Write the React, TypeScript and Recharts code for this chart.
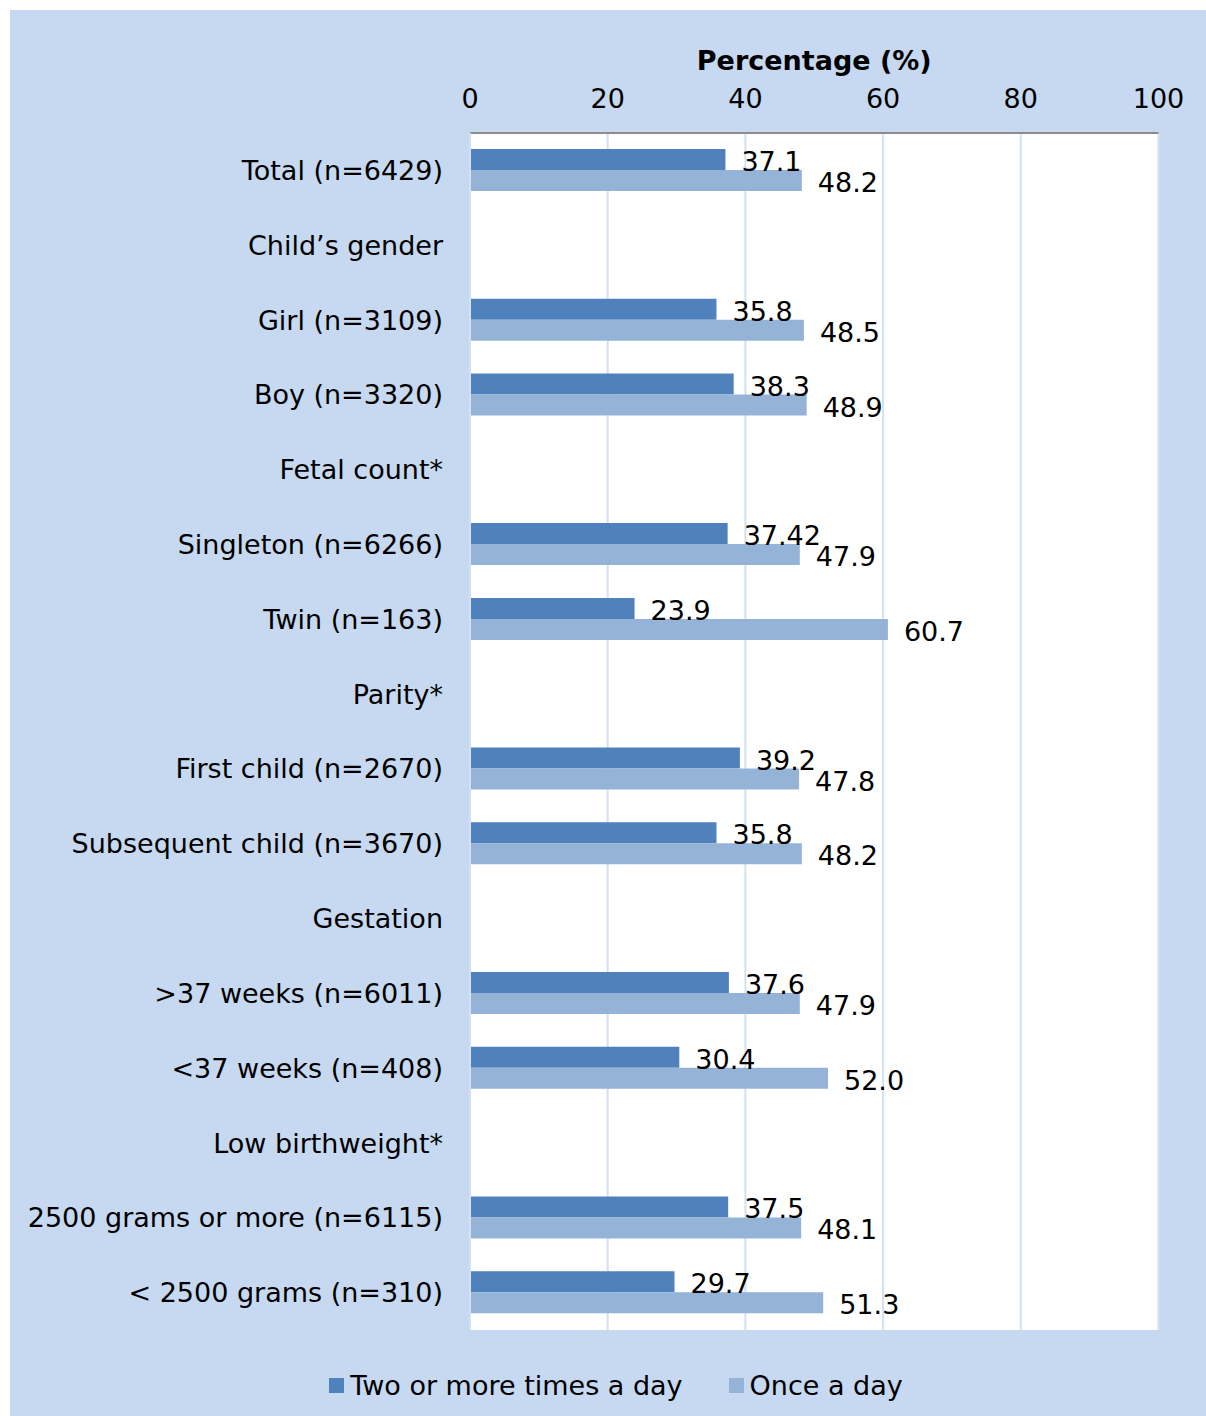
import { BarChart, Bar, XAxis, YAxis, CartesianGrid, Legend, LabelList } from "recharts";

const categories = [
    "Total (n=6429)",
    "Child\u2019s gender",
    "Girl (n=3109)",
    "Boy (n=3320)",
    "Fetal count*",
    "Singleton (n=6266)",
    "Twin (n=163)",
    "Parity*",
    "First child (n=2670)",
    "Subsequent child (n=3670)",
    "Gestation",
    ">37 weeks (n=6011)",
    "<37 weeks (n=408)",
    "Low birthweight*",
    "2500 grams or more (n=6115)",
    "< 2500 grams (n=310)",
];

const twoOrMore = [37.1, null, 35.8, 38.3, null, 37.42, 23.9, null, 39.2, 35.8, null, 37.6, 30.4, null, 37.5, 29.7];
const onceADay = [48.2, null, 48.5, 48.9, null, 47.9, 60.7, null, 47.8, 48.2, null, 47.9, 52.0, null, 48.1, 51.3];

const xTicks = [0, 20, 40, 60, 80, 100];

const DARK = "#4f81bd";
const LIGHT = "#95b3d7";
const PANEL = "#c6d9f1";
const GRID = "#d3e0f1";
const FONT = 27;

const data = categories.map((name, i) => ({
    name,
    two: twoOrMore[i],
    once: onceADay[i],
}));

const fmt = (v: any) => {
    if (v == null) return "";
    return Number.isInteger(v) ? Number(v).toFixed(1) : String(v);
};

const LegendBox = () => (
    <div
        style={{
            display: "flex",
            justifyContent: "center",
            alignItems: "center",
            height: 40,
            paddingLeft: 16,
            fontSize: FONT,
            color: "#000",
        }}
    >
        <span style={{ display: "inline-block", width: 15, height: 15, background: DARK, marginRight: 6 }} />
        <span style={{ marginRight: 46 }}>Two or more times a day</span>
        <span style={{ display: "inline-block", width: 15, height: 15, background: LIGHT, marginRight: 6 }} />
        <span>Once a day</span>
    </div>
);

export default function App() {
    return (
        <div
            style={{
                position: "absolute",
                left: 0,
                top: 0,
                width: 1206,
                height: 1416,
                background: "#fff",
                fontFamily: "'DejaVu Sans', Verdana, sans-serif",
            }}
        >
            <div style={{ position: "absolute", left: 10, top: 10, width: 1196, height: 1406, background: PANEL }}>
                <BarChart
                    width={1196}
                    height={1406}
                    layout="vertical"
                    data={data}
                    margin={{ top: 20, right: 47.5, bottom: 46, left: 20 }}
                    barSize={21}
                    barGap={0}
                >
                    <CartesianGrid horizontal={false} stroke={GRID} strokeWidth={2} fill="#fff" />
                    <XAxis
                        type="number"
                        orientation="top"
                        domain={[0, 100]}
                        ticks={xTicks}
                        height={103}
                        tickLine={false}
                        tickSize={0}
                        tickMargin={25}
                        axisLine={{ stroke: "#8c8c8c", strokeWidth: 2 }}
                        tick={{ fill: "#000", fontSize: FONT }}
                        label={{
                            value: "Percentage (%)",
                            position: "insideTop",
                            offset: 21,
                            fill: "#000",
                            fontSize: FONT,
                            fontWeight: "bold",
                        }}
                    />
                    <YAxis
                        type="category"
                        dataKey="name"
                        width={440}
                        interval={0}
                        tickLine={false}
                        tickSize={0}
                        tickMargin={27}
                        axisLine={{ stroke: GRID, strokeWidth: 2 }}
                        tick={{ fill: "#000", fontSize: FONT }}
                    />
                    <Legend
                        verticalAlign="bottom"
                        height={40}
                        content={() => <LegendBox />}
                        wrapperStyle={{ left: 0, width: 1196, bottom: 11 }}
                    />
                    <Bar dataKey="two" name="Two or more times a day" fill={DARK} isAnimationActive={false}>
                        <LabelList dataKey="two" position="right" offset={16} dy={2} formatter={fmt} fill="#000" fontSize={FONT} />
                    </Bar>
                    <Bar dataKey="once" name="Once a day" fill={LIGHT} isAnimationActive={false}>
                        <LabelList dataKey="once" position="right" offset={16} dy={2} formatter={fmt} fill="#000" fontSize={FONT} />
                    </Bar>
                </BarChart>
            </div>
        </div>
    );
}
